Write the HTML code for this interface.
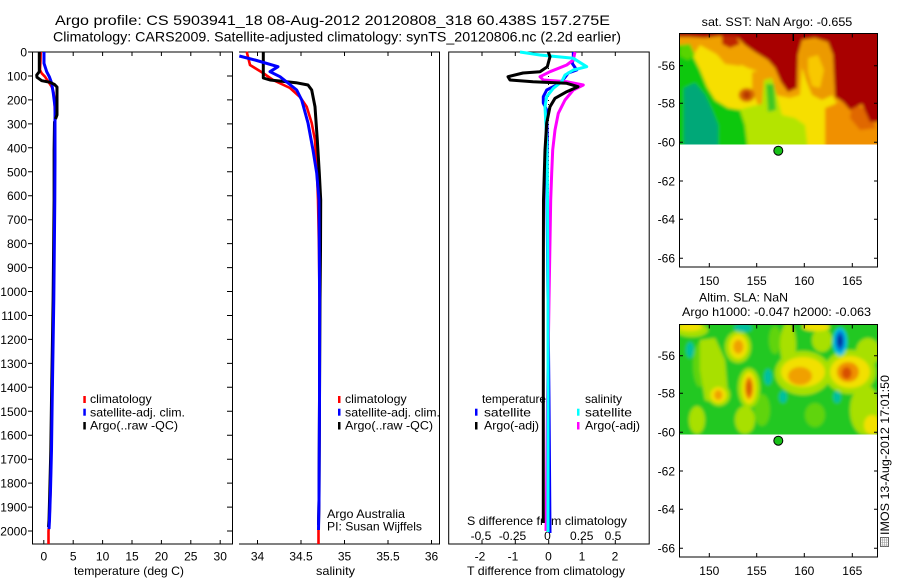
<!DOCTYPE html>
<html><head><meta charset="utf-8"><style>
html,body{margin:0;padding:0;background:#fff;}
svg{display:block;}
text{font-family:"Liberation Sans",Arial,sans-serif;fill:#000;}
</style></head><body>
<svg width="900" height="580" viewBox="0 0 900 580" xmlns="http://www.w3.org/2000/svg">
<defs>
<clipPath id="c1"><rect x="679.5" y="33.5" width="198" height="111"/></clipPath>
<clipPath id="c2"><rect x="679.5" y="324.5" width="198" height="110"/></clipPath>
<filter id="bl" x="-5%" y="-5%" width="110%" height="110%"><feGaussianBlur stdDeviation="1.6"/></filter>
</defs>
<rect width="900" height="580" fill="#fff"/>

<!-- Titles -->
<text x="55" y="25" font-size="14" textLength="555" lengthAdjust="spacingAndGlyphs">Argo profile: CS 5903941_18 08-Aug-2012 20120808_318 60.438S 157.275E</text>
<text x="53" y="41.5" font-size="14" textLength="568" lengthAdjust="spacingAndGlyphs">Climatology: CARS2009. Satellite-adjusted climatology: synTS_20120806.nc (2.2d earlier)</text>

<!-- ========== Temperature panel ========== -->
<g stroke="#000" stroke-width="1" fill="none">
<rect x="32.5" y="52" width="200" height="492"/>
<path d="M28 52H32.5M28 76H32.5M28 99.9H32.5M28 123.9H32.5M28 147.8H32.5M28 171.8H32.5M28 195.7H32.5M28 219.7H32.5M28 243.6H32.5M28 267.6H32.5M28 291.5H32.5M28 315.5H32.5M28 339.4H32.5M28 363.4H32.5M28 387.3H32.5M28 411.3H32.5M28 435.2H32.5M28 459.2H32.5M28 483.1H32.5M28 507.1H32.5M28 531H32.5"/>
<path d="M227 76H232.5M227 99.9H232.5M227 123.9H232.5M227 147.8H232.5M227 171.8H232.5M227 195.7H232.5M227 219.7H232.5M227 243.6H232.5M227 267.6H232.5M227 291.5H232.5M227 315.5H232.5M227 339.4H232.5M227 363.4H232.5M227 387.3H232.5M227 411.3H232.5M227 435.2H232.5M227 459.2H232.5M227 483.1H232.5M227 507.1H232.5M227 531H232.5"/>
<path d="M43.8 52V56M73.2 52V56M102.6 52V56M132 52V56M161.4 52V56M190.8 52V56M220.2 52V56"/>
<path d="M43.8 544V540M73.2 544V540M102.6 544V540M132 544V540M161.4 544V540M190.8 544V540M220.2 544V540"/>
</g>
<g font-size="12" text-anchor="end">
<text x="27" y="56.5">0</text><text x="27" y="80.5">100</text><text x="27" y="104.4">200</text><text x="27" y="128.4">300</text><text x="27" y="152.3">400</text><text x="27" y="176.3">500</text><text x="27" y="200.2">600</text><text x="27" y="224.2">700</text><text x="27" y="248.1">800</text><text x="27" y="272.1">900</text><text x="27" y="296">1000</text><text x="27" y="320">1100</text><text x="27" y="343.9">1200</text><text x="27" y="367.9">1300</text><text x="27" y="391.8">1400</text><text x="27" y="415.8">1500</text><text x="27" y="439.7">1600</text><text x="27" y="463.7">1700</text><text x="27" y="487.6">1800</text><text x="27" y="511.6">1900</text><text x="27" y="535.5">2000</text>
</g>
<g font-size="12" text-anchor="middle">
<text x="43.8" y="560.5">0</text><text x="73.2" y="560.5">5</text><text x="102.6" y="560.5">10</text><text x="132" y="560.5">15</text><text x="161.4" y="560.5">20</text><text x="190.8" y="560.5">25</text><text x="220.2" y="560.5">30</text>
</g>
<text x="74" y="575" font-size="12" textLength="110" lengthAdjust="spacingAndGlyphs">temperature (deg C)</text>
<g fill="none" stroke-linejoin="round">
<polyline stroke="#f00" stroke-width="2.6" points="40.7,52 40.5,60 40,70 41.7,73.3 45,76.7 48.3,81.7 51.7,86.7 53.5,92 54.5,100 55,120 54.8,150 54.5,200 54,250 53.5,300 52.8,350 52,400 51.2,450 50.5,490 49.5,520 48.5,531 48.5,544"/>
<polyline stroke="#000" stroke-width="2" points="57,115 54,122 53.6,150 53.6,200 53.1,250 52.6,300 51.8,350 51,400 50.3,450 49.3,490 48.5,520 48,527"/>
<polyline stroke="#00f" stroke-width="3" points="44,52 44,63.3 46.7,71.7 49.3,76.7 51.7,83.3 53.3,93.3 55,106.7 55,130 55,160 54.8,200 54.3,250 53.8,300 53,350 52.2,400 51.5,450 50.5,490 49.5,520 49,529"/>
<polyline stroke="#000" stroke-width="3" points="39.3,52 39.3,71.7 36.7,75 37,77.3 41.7,80.7 50,82.3 54.3,84.3 57,87 57,115 55.5,119"/>
</g>
<!-- temp legend -->
<rect x="83.3" y="396" width="2.5" height="7" fill="#f00"/>
<rect x="83.3" y="408.7" width="2.5" height="7" fill="#00f"/>
<rect x="83.3" y="422" width="2.5" height="7.5" fill="#000"/>
<g font-size="12">
<text x="90" y="403" textLength="61.7" lengthAdjust="spacingAndGlyphs">climatology</text>
<text x="90" y="416.3" textLength="95" lengthAdjust="spacingAndGlyphs">satellite-adj. clim.</text>
<text x="90" y="429.7" textLength="88" lengthAdjust="spacingAndGlyphs">Argo(..raw -QC)</text>
</g>

<!-- ========== Salinity panel ========== -->
<g stroke="#000" stroke-width="1" fill="none">
<path d="M239 52H439.5V544H239"/>
<path d="M257.5 52V56M301 52V56M344.5 52V56M388 52V56M431.5 52V56"/>
<path d="M257.5 544V540M301 544V540M344.5 544V540M388 544V540M431.5 544V540"/>
</g>
<g font-size="12" text-anchor="middle">
<text x="257.5" y="560.5">34</text><text x="301" y="560.5">34.5</text><text x="344.5" y="560.5">35</text><text x="388" y="560.5">35.5</text><text x="431.5" y="560.5">36</text>
</g>
<text x="316" y="575" font-size="12" textLength="39" lengthAdjust="spacingAndGlyphs">salinity</text>
<g fill="none" stroke-linejoin="round">
<polyline stroke="#f00" stroke-width="2.6" points="246.7,51.7 250,65 263,73 273,80 290,88 300,97 306.7,106.7 311.7,123 315,140 317,173 318,200 319,250 319.5,300 319.5,400 319,500 318.5,531 318.5,544"/>
<polyline stroke="#000" stroke-width="3" points="263.3,52 263.3,78 270,80 296,82.7 308,85 311.7,90 315,106.7 317.3,140 319.3,173 320.7,200 320.5,250 320,300 319.5,400 319,500 318.5,525"/>
<polyline stroke="#00f" stroke-width="3" points="239.3,56 255,60 278,66.7 270,71.7 280,76.7 288,83 296.7,90 301.7,100 308,123 313,150 316.7,173 319,200 319.3,250 319.6,300 319.5,400 319,500 318.5,530"/>
</g>
<rect x="338" y="396" width="2.5" height="7" fill="#f00"/>
<rect x="338" y="408.7" width="2.5" height="7" fill="#00f"/>
<rect x="338" y="422" width="2.5" height="7.5" fill="#000"/>
<g font-size="12">
<text x="345" y="403" textLength="61.7" lengthAdjust="spacingAndGlyphs">climatology</text>
<text x="345" y="416.3" textLength="95" lengthAdjust="spacingAndGlyphs">satellite-adj. clim.</text>
<text x="345" y="429.7" textLength="88" lengthAdjust="spacingAndGlyphs">Argo(..raw -QC)</text>
<text x="327" y="518" textLength="78" lengthAdjust="spacingAndGlyphs">Argo Australia</text>
<text x="327" y="530.5" textLength="95" lengthAdjust="spacingAndGlyphs">PI: Susan Wijffels</text>
</g>

<!-- ========== Difference panel ========== -->
<g stroke="#000" stroke-width="1" fill="none">
<rect x="448.7" y="52" width="200.5" height="492"/>
<path d="M482 52V56M515.3 52V56M582 52V56M615.3 52V56"/>
<path d="M482 544V540M515.3 544V540M548.7 544V540M582 544V540M615.3 544V540"/>
<line x1="548.5" y1="52" x2="548.5" y2="530" stroke-dasharray="1,3"/>
</g>
<g font-size="12" text-anchor="middle">
<text x="480" y="560.5">-2</text><text x="513" y="560.5">-1</text><text x="548.5" y="560.5">0</text><text x="582" y="560.5">1</text><text x="615" y="560.5">2</text>
<text x="481" y="540">-0.5</text><text x="512.5" y="540">-0.25</text><text x="547.5" y="540">0</text><text x="581.7" y="540">0.25</text><text x="613" y="540">0.5</text>
</g>
<text x="467" y="525" font-size="12" textLength="160" lengthAdjust="spacingAndGlyphs">S difference from climatology</text>
<text x="467" y="575" font-size="12" textLength="158" lengthAdjust="spacingAndGlyphs">T difference from climatology</text>
<g fill="none" stroke-linejoin="round" stroke-width="3">
<polyline stroke="#00f" points="573.3,52 573.3,60 572,63 576.7,70 568.3,73 563,80 556.7,85 546.7,90 543.3,96.7 543.3,103 546.7,110 547.3,140 547,200 548,300 549,400 550,533"/>
<polyline stroke="#f0f" points="575,52 573.3,60 566.7,65 550,71.7 540,76.7 543.3,80 566.7,81.7 583.3,85 573.3,90 565,100 558.3,113.3 555,130 552.7,150 551.7,173 550.7,200 549,300 547.5,400 546.5,500 546,531"/>
<polyline stroke="#0ff" points="520,52 540,55 573.3,58.3 586.7,66.7 573.3,70 565,75 561.7,81.7 553.3,88.3 546.7,96.7 545,106.7 546.7,140 547.3,173 547.5,200 548,300 548,400 548,532"/>
<polyline stroke="#000" points="548.3,52 550,56.7 547.3,66.7 540,71.7 523,73 508,76.7 510,80 533,81.7 566.7,83.3 578,86.7 566.7,91.7 555,98.3 550,106.7 546.7,123 545,150 543.5,200 543.3,300 543.3,400 543.3,523"/>
</g>
<rect x="475" y="408.7" width="2.5" height="7" fill="#00f"/>
<rect x="475" y="422" width="2.5" height="7.5" fill="#000"/>
<rect x="577" y="408.7" width="2.5" height="7" fill="#0ff"/>
<rect x="577" y="422" width="2.5" height="7.5" fill="#f0f"/>
<g font-size="12">
<text x="482" y="403" textLength="64" lengthAdjust="spacingAndGlyphs">temperature</text>
<text x="484" y="416.3" textLength="47" lengthAdjust="spacingAndGlyphs">satellite</text>
<text x="484" y="429.7" textLength="55" lengthAdjust="spacingAndGlyphs">Argo(-adj)</text>
<text x="585" y="403" textLength="37" lengthAdjust="spacingAndGlyphs">salinity</text>
<text x="585" y="416.3" textLength="47" lengthAdjust="spacingAndGlyphs">satellite</text>
<text x="585" y="429.7" textLength="55" lengthAdjust="spacingAndGlyphs">Argo(-adj)</text>
</g>

<!-- ========== SST map ========== -->
<text x="701.7" y="26" font-size="12" textLength="150.6" lengthAdjust="spacingAndGlyphs">sat. SST: NaN Argo: -0.655</text>
<g clip-path="url(#c1)">
<g filter="url(#bl)">
<rect x="665" y="25" width="230" height="130" fill="#f0a000"/>
<polygon fill="#f6df00" points="700,45 718,55 735,62 748,68 760,72 770,80 775,95 790,98 800,95 802,70 808,50 822,48 830,60 832,95 840,110 842,125 835,150 690,150 690,60"/>
<polygon fill="#f0a000" points="712,38 742,38 748,55 740,66 725,64 715,52"/>
<polygon fill="#f0a000" points="752,72 765,70 775,90 770,108 758,105 752,90"/>
<polygon fill="#ec9a00" points="802,42 828,40 834,60 833,95 822,100 812,95 806,80 800,60"/>
<polygon fill="#f8c800" points="808,58 818,55 824,70 820,88 812,86 808,72"/>
<ellipse cx="746.7" cy="95" rx="8" ry="7" fill="#d86800"/>
<ellipse cx="746.7" cy="95" rx="4" ry="4" fill="#b83800"/>
<polygon fill="#f09000" points="825,108 845,100 878,108 890,150 825,150"/>
<polygon fill="#e06800" points="852,104 868,110 876,128 860,130 850,118"/>
<polygon fill="#a80000" points="665,20 895,20 895,122 870,122 862,104 850,110 843,102 835,97 833,55 828,42 815,38 802,40 798,55 797,88 788,92 781,82 775,68 768,60 755,52 745,45 738,38 720,36 705,38 690,37 665,37"/>
<polygon fill="#c02800" points="722,36 736,36 740,44 730,48 722,44"/>
<polygon fill="#b4e400" points="700,100 715,108 730,112 745,108 762,104 764,80 772,78 778,100 782,115 795,118 805,125 808,150 700,150"/>
<polygon fill="#10c810" points="665,45 687,45 695,60 700,70 707,87 715,100 728,108 740,110 745,125 748,150 665,150"/>
<polygon fill="#58d400" points="680,45 690,44 695,55 688,60 680,56"/>
<polygon fill="#00a878" points="684,88 695,83 705,95 712,110 718,125 718,150 684,150"/>
<polygon fill="#40c820" points="766,84 774,84 776,110 768,112"/>
</g>
</g>
<g stroke="#000" stroke-width="1" fill="none">
<rect x="679.5" y="33.5" width="198" height="233.5"/>
<path d="M709.3 33.5V37.5M756.7 33.5V37.5M804.3 33.5V37.5M852.3 33.5V37.5"/>
<path d="M709.3 267V263M756.7 267V263M804.3 267V263M852.3 267V263"/>
<path d="M679.5 65.7H683M679.5 103.3H683M679.5 142.3H683M679.5 181H683M679.5 219.3H683M679.5 258.3H683"/>
<path d="M877.5 65.7H874M877.5 103.3H874M877.5 142.3H874M877.5 181H874M877.5 219.3H874M877.5 258.3H874"/>
</g>
<line x1="793.3" y1="33.5" x2="793.3" y2="41" stroke="#000" stroke-width="1.5"/>
<circle cx="778.3" cy="150.7" r="4.5" fill="#18c018" stroke="#000" stroke-width="1"/>
<g font-size="12" text-anchor="end">
<text x="675" y="70">-56</text><text x="675" y="107.6">-58</text><text x="675" y="146.6">-60</text><text x="675" y="185.3">-62</text><text x="675" y="223.6">-64</text><text x="675" y="262.6">-66</text>
</g>
<g font-size="12" text-anchor="middle">
<text x="709.3" y="285">150</text><text x="756.7" y="285">155</text><text x="804.3" y="285">160</text><text x="852.3" y="285">165</text>
</g>

<!-- ========== SLA map ========== -->
<text x="699" y="301.5" font-size="12" textLength="89" lengthAdjust="spacingAndGlyphs">Altim. SLA: NaN</text>
<text x="682" y="316" font-size="12" textLength="189" lengthAdjust="spacingAndGlyphs">Argo h1000: -0.047 h2000: -0.063</text>
<g clip-path="url(#c2)">
<g filter="url(#bl)">
<rect x="665" y="315" width="230" height="130" fill="#22c822"/>
<g fill="#60d410">
<ellipse cx="700" cy="365" rx="7" ry="22"/>
<ellipse cx="762" cy="410" rx="8" ry="16"/>
<ellipse cx="815" cy="415" rx="10" ry="12"/>
<ellipse cx="775" cy="340" rx="6" ry="14"/>
</g>
<g fill="#a8e000">
<polygon points="700,340 715,338 725,360 728,395 720,405 705,400 700,370"/>
<ellipse cx="788" cy="345" rx="8" ry="22"/>
<ellipse cx="822" cy="340" rx="10" ry="12"/>
<ellipse cx="865" cy="410" rx="15" ry="25"/>
<ellipse cx="868" cy="352" rx="12" ry="14"/>
<ellipse cx="697" cy="420" rx="8" ry="14"/>
<ellipse cx="745" cy="420" rx="10" ry="14"/>
<ellipse cx="803" cy="373" rx="28" ry="22"/>
<ellipse cx="850" cy="372" rx="26" ry="22"/>
<ellipse cx="738" cy="347" rx="13" ry="16"/>
<ellipse cx="749" cy="388" rx="11" ry="20"/>
<ellipse cx="719" cy="395" rx="11" ry="11"/>
<ellipse cx="692" cy="330" rx="16" ry="7"/>
</g>
<g fill="#f2e000">
<ellipse cx="738.3" cy="346.7" rx="9" ry="12"/>
<ellipse cx="749" cy="388" rx="7" ry="16"/>
<ellipse cx="718.3" cy="395" rx="8" ry="8"/>
<ellipse cx="803" cy="372" rx="22" ry="15"/>
<ellipse cx="850" cy="372" rx="20" ry="16"/>
<ellipse cx="816" cy="327" rx="14" ry="4"/>
<ellipse cx="690" cy="327" rx="12" ry="4"/>
<ellipse cx="872" cy="425" rx="8" ry="10"/>
</g>
<ellipse cx="738.3" cy="346.7" rx="5" ry="7" fill="#f0a000"/>
<ellipse cx="749" cy="388" rx="4" ry="11" fill="#e88000"/>
<ellipse cx="749" cy="388" rx="2.5" ry="7" fill="#d86000"/>
<ellipse cx="718.3" cy="395" rx="4" ry="5" fill="#f0a000"/>
<ellipse cx="800" cy="376" rx="12" ry="9" fill="#f0a000"/>
<ellipse cx="848" cy="372" rx="11" ry="10" fill="#f09000"/>
<ellipse cx="846.7" cy="373" rx="5" ry="6" fill="#d85000"/>
<ellipse cx="840" cy="341.7" rx="7" ry="14" fill="#00c0e0"/>
<ellipse cx="840" cy="341" rx="4.5" ry="10" fill="#0070d0"/>
<ellipse cx="840" cy="341" rx="2.5" ry="6" fill="#0030a0"/>
<g fill="#00c0a0">
<ellipse cx="743" cy="328" rx="9" ry="4"/>
<ellipse cx="768" cy="377" rx="4" ry="8"/>
<ellipse cx="783" cy="397" rx="4" ry="6"/>
<ellipse cx="837" cy="397" rx="4" ry="6"/>
<ellipse cx="690" cy="350" rx="4" ry="8"/>
</g>
</g>
</g>
<g stroke="#000" stroke-width="1" fill="none">
<rect x="679.5" y="324.5" width="198" height="232.5"/>
<path d="M709.3 324.5V328.5M756.7 324.5V328.5M804.3 324.5V328.5M852.3 324.5V328.5"/>
<path d="M709.3 557V553M756.7 557V553M804.3 557V553M852.3 557V553"/>
<path d="M679.5 355.7H683M679.5 393.3H683M679.5 432.3H683M679.5 471H683M679.5 509.3H683M679.5 548.3H683"/>
<path d="M877.5 355.7H874M877.5 393.3H874M877.5 432.3H874M877.5 471H874M877.5 509.3H874M877.5 548.3H874"/>
</g>
<line x1="793.3" y1="324.5" x2="793.3" y2="332" stroke="#000" stroke-width="1.5"/>
<circle cx="778.3" cy="440.7" r="4.5" fill="#18c018" stroke="#000" stroke-width="1"/>
<g font-size="12" text-anchor="end">
<text x="675" y="360">-56</text><text x="675" y="397.6">-58</text><text x="675" y="436.6">-60</text><text x="675" y="475.3">-62</text><text x="675" y="513.6">-64</text><text x="675" y="552.6">-66</text>
</g>
<g font-size="12" text-anchor="middle">
<text x="709.3" y="575">150</text><text x="756.7" y="575">155</text><text x="804.3" y="575">160</text><text x="852.3" y="575">165</text>
</g>

<!-- IMOS stamp -->
<text transform="translate(889,535) rotate(-90)" font-size="12" textLength="160" lengthAdjust="spacingAndGlyphs">IMOS 13-Aug-2012 17:01:50</text>
<rect x="880.5" y="537.5" width="8" height="9" fill="#fff" stroke="#666" stroke-width="1"/>
<path d="M882.5 537.5V546.5M884.5 537.5V546.5M886.5 537.5V546.5M880.5 540H888.5M880.5 542.5H888.5M880.5 545H888.5" stroke="#999" stroke-width="0.6"/>
</svg>
</body></html>
